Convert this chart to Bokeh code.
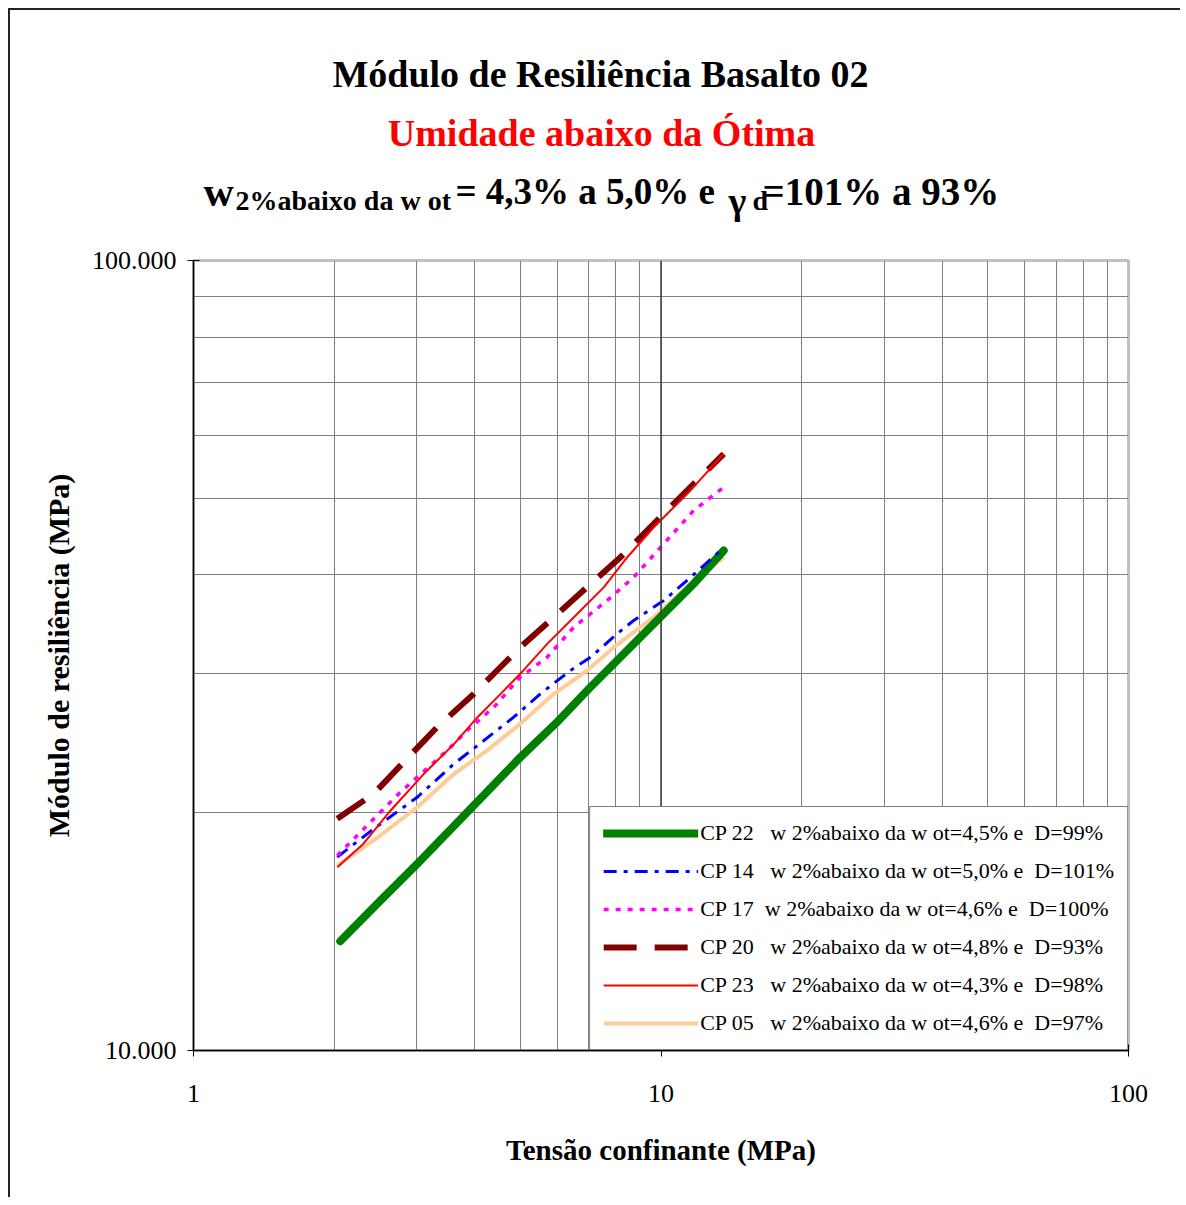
from bokeh.plotting import figure
from bokeh.layouts import column
from bokeh.models import Range1d, FixedTicker, Legend, LegendItem, Span
from bokeh.core.properties import value
from bokeh.embed import file_html
from bokeh.resources import INLINE

# ---------------- data ----------------
x_major = [1, 10, 100]
x_minor = [2, 3, 4, 5, 6, 7, 8, 9, 20, 30, 40, 50, 60, 70, 80, 90]
y_major = [10000, 100000]
y_minor = [20000, 30000, 40000, 50000, 60000, 70000, 80000, 90000]
x_tick_labels = {1: "1", 10: "10", 100: "100"}
y_tick_labels = {10000: "10.000", 100000: "100.000"}

cp22_x = [2.06, 2.51, 3.01, 4.01, 5.00, 6.04, 7.01, 7.93, 9.97, 11.75, 13.62]
cp22_y = [13750, 15480, 17230, 20530, 23500, 26160, 28700, 30870, 35360, 38980, 42950]

cp14_x = [2.03, 2.43, 3.01, 3.61, 4.01, 4.84, 5.52, 6.40, 7.07, 8.06, 8.74, 10.14, 11.57, 13.41]
cp14_y = [17570, 19080, 20920, 23070, 24210, 26420, 28280, 30270, 31470, 33690, 35020, 37120, 39720, 42950]

cp17_x = [2.03, 2.39, 2.77, 3.49, 3.85, 4.39, 5.00, 5.71, 6.51, 7.67, 8.74, 10.14, 11.75, 13.62]
cp17_y = [17650, 19450, 21230, 23980, 25420, 27200, 29690, 31470, 34350, 37120, 39720, 43800, 48260, 51640]

cp20_x = [2.03, 2.43, 2.86, 3.32, 3.98, 4.46, 5.00, 5.90, 6.95, 8.19, 9.65, 11.38, 13.62]
cp20_y = [19650, 21130, 23400, 25660, 28280, 30270, 32400, 35360, 38600, 42110, 46420, 51170, 56920]

cp23_x = [2.03, 2.31, 2.64, 3.11, 3.61, 4.05, 4.54, 5.00, 5.71, 6.51, 7.55, 8.47, 9.65, 11.38, 13.62]
cp23_y = [17060, 18270, 20130, 22400, 24440, 26420, 28280, 29980, 32710, 35360, 38600, 42110, 45960, 50660, 56920]

cp05_x = [2.03, 2.43, 3.01, 3.61, 4.25, 5.00, 5.90, 6.95, 7.93, 9.65, 11.38, 13.62]
cp05_y = [17150, 18450, 20320, 22400, 23980, 25910, 28280, 30270, 32400, 35360, 38600, 42110]

legend_labels = [
    "CP 22   w 2%abaixo da w ot=4,5% e  D=99%",
    "CP 14   w 2%abaixo da w ot=5,0% e  D=101%",
    "CP 17  w 2%abaixo da w ot=4,6% e  D=100%",
    "CP 20   w 2%abaixo da w ot=4,8% e  D=93%",
    "CP 23   w 2%abaixo da w ot=4,3% e  D=98%",
    "CP 05   w 2%abaixo da w ot=4,6% e  D=97%",
]

title1 = "Módulo de Resiliência Basalto 02"
title2 = "Umidade abaixo da Ótima"
t3_w = "w"
t3_sub = "2%abaixo da w ot"
t3_mid = "= 4,3% a 5,0% e"
t3_gamma = "γ"
t3_d = "d"
t3_end = "=101% a 93%"
x_title = "Tensão confinante (MPa)"
y_title = "Módulo de resiliência (MPa)"

SERIF = "Liberation Serif"
W = 1170
TH = 225

# ---------------- title strip (frame aligned with the chart frame: page pixels) ----------------
t = figure(width=W, height=TH, x_range=Range1d(193, 1128), y_range=Range1d(0, TH),
           output_backend="svg", toolbar_location=None,
           x_axis_location=None, y_axis_location=None,
           min_border=0)
t.grid.visible = False
t.outline_line_color = None
t.background_fill_color = "white"
t.border_fill_color = "white"


def txt(s, x, y, size, color="black", align="left"):
    t.text(x=[x], y=[y], text=[s], text_align=align, text_baseline="alphabetic",
           text_font=value(SERIF), text_font_style="bold",
           text_font_size=size, text_color=color)


txt(title1, 600, 162, "38px", align="center")
txt(title2, 601, 103, "38px", color="#FF0000", align="center")
txt(t3_w, 203, 44, "42px")
txt(t3_sub, 235, 35, "28px")
txt(t3_mid, 455, 44, "37px")
txt(t3_gamma, 728, 35, "38px")
txt(t3_d, 752, 35, "28px")
txt(t3_end, 762, 44, "39px")

# ---------------- main chart ----------------
p = figure(width=W, height=962,
           x_axis_type="log", y_axis_type="log",
           x_range=Range1d(1, 100), y_range=Range1d(10000, 100000),
           output_backend="svg", toolbar_location=None,
           min_border_left=183, min_border_top=25,
           min_border_right=52, min_border_bottom=147)
p.background_fill_color = "white"
p.border_fill_color = "white"
p.outline_line_color = "#C0C0C0"
p.outline_line_width = 3

xt = FixedTicker(ticks=x_major, minor_ticks=x_minor)
yt = FixedTicker(ticks=y_major, minor_ticks=y_minor)
p.xaxis.ticker = xt
p.yaxis.ticker = yt
p.xgrid.ticker = xt
p.ygrid.ticker = yt
p.xaxis.major_label_overrides = x_tick_labels
p.yaxis.major_label_overrides = y_tick_labels

for g in (p.xgrid, p.ygrid):
    g.grid_line_color = "#808080"
    g.grid_line_width = 1
    g.minor_grid_line_color = "#808080"
    g.minor_grid_line_width = 1

for ax in (p.xaxis, p.yaxis):
    ax.axis_line_color = "black"
    ax.axis_line_width = 1.5
    ax.major_tick_line_color = "black"
    ax.major_tick_out = 6
    ax.major_tick_in = 6
    ax.minor_tick_out = 0
    ax.minor_tick_in = 0
    ax.major_label_text_font = SERIF
    ax.major_label_text_font_size = "26px"
    ax.major_label_text_color = "black"
    ax.axis_label_text_font = SERIF
    ax.axis_label_text_font_style = "bold"
    ax.axis_label_text_color = "black"

p.xaxis.major_label_standoff = 28
p.xaxis.axis_label = x_title
p.xaxis.axis_label_text_font_size = "29px"
p.xaxis.axis_label_standoff = 29
p.yaxis.major_label_standoff = 11
p.yaxis.axis_label = y_title
p.yaxis.axis_label_text_font_size = "30px"
p.yaxis.axis_label_standoff = 14

p.add_layout(Span(location=x_major[1], dimension="height", line_color="#404040", line_width=1.5))

r05 = p.line(cp05_x, cp05_y, line_color="#FFCC99", line_width=4)
r22 = p.line(cp22_x, cp22_y, line_color="#008000", line_width=8, line_cap="round", line_join="round")
r14 = p.line(cp14_x, cp14_y, line_color="#0000FF", line_width=3, line_dash="13 7 4 7")
r17 = p.line(cp17_x, cp17_y, line_color="#FF00FF", line_width=3.5, line_dash="5 7")
r20 = p.line(cp20_x, cp20_y, line_color="#800000", line_width=6, line_dash="33 18")
r23 = p.line(cp23_x, cp23_y, line_color="#FF0000", line_width=2)
rends = [r22, r14, r17, r20, r23, r05]

legend = Legend(
    items=[LegendItem(label=lab, renderers=[r]) for lab, r in zip(legend_labels, rends)],
    location="bottom_right", margin=0, padding=13,
    border_line_color="black", border_line_width=1.5,
    background_fill_color="white", background_fill_alpha=1,
    glyph_width=95, glyph_height=22, label_height=22, spacing=12,
    label_standoff=2,
    label_text_font=SERIF, label_text_font_size="22px", label_text_color="black",
)
p.add_layout(legend)

layout = column(t, p, spacing=0)
layout.styles = {"margin-left": "8px", "margin-top": "8px",
                 "border-left": "2px solid #222222", "border-top": "2px solid #222222"}

open("out.html", "w").write(file_html(layout, INLINE))
